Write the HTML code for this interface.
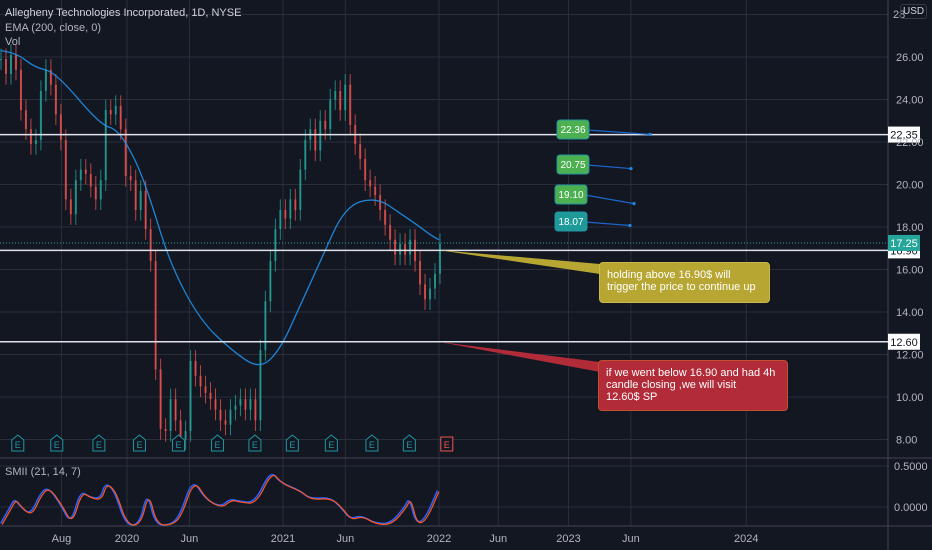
<!DOCTYPE html>
<html><head><meta charset="utf-8"><style>
body{margin:0;background:#131722;width:932px;height:550px;overflow:hidden;font-family:"Liberation Sans",sans-serif}
svg{display:block}
</style></head><body>
<svg id="c" width="932" height="550">
<rect width="932" height="550" fill="#131722"/>
<g id="grid"></g>
<g id="main"></g>
<g id="ann"></g>
<g id="axis"></g>
</svg>
<script>
const closes=[25.9,25.2,26.1,25.4,23.5,22.6,21.9,22.1,24.4,25.4,24.7,23.3,22.1,19.3,18.6,20.2,20.7,20.5,19.9,19.3,20.2,23.5,23.3,23.7,22.6,20.4,20.2,18.8,19.7,17.9,16.4,11.3,8.5,8.4,9.9,8.9,8.0,8.4,11.7,11.0,10.5,10.2,9.9,9.4,8.9,8.7,9.4,9.6,9.9,9.4,9.9,8.9,12.2,14.5,16.4,17.9,18.8,18.4,19.3,18.8,20.7,22.1,22.6,21.6,23.0,22.6,24.0,24.4,23.5,24.7,22.8,21.9,21.2,20.2,19.9,19.5,18.8,18.1,17.4,16.7,17.2,16.7,17.4,16.4,15.3,14.6,15.1,15.8,17.2];
const emaT=[2019.19,2019.29,2019.41,2019.54,2019.83,2019.94,2020.06,2020.15,2020.28,2020.47,2020.67,2020.85,2020.98,2021.11,2021.24,2021.40,2021.60,2021.76,2021.86,2021.95,2022.0];
const emaV=[26.3,26.2,25.5,25.3,22.8,22.6,21.1,19.3,16.2,13.6,12.2,11.3,12.2,14.3,16.4,19.0,19.4,18.6,18.1,17.6,17.4];
const smiT=[2019.19,2019.25,2019.28,2019.31,2019.38,2019.44,2019.49,2019.57,2019.64,2019.70,2019.76,2019.83,2019.86,2019.92,2019.99,2020.08,2020.13,2020.18,2020.28,2020.34,2020.42,2020.50,2020.60,2020.66,2020.72,2020.82,2020.92,2020.98,2021.11,2021.17,2021.30,2021.37,2021.43,2021.50,2021.59,2021.69,2021.78,2021.81,2021.85,2021.91,2021.99];
const smiV=[-0.2,0.0,0.1,0.02,-0.1,0.15,0.25,0.05,-0.25,0.2,0.12,0.1,0.3,0.2,-0.25,-0.25,0.2,-0.25,-0.25,-0.1,0.35,0.1,0.0,0.1,0.07,0.05,0.45,0.3,0.2,0.1,0.12,0.0,-0.15,-0.1,-0.2,-0.2,0.0,0.12,-0.2,-0.15,0.2];
const priceTicks=[26,24,22,20,18,16,14,12,10,8];
const smiTicks=[0.5,0];
const timeTicks=[["Aug",2019.58],["2020",2020.0],["Jun",2020.4],["2021",2021.0],["Jun",2021.4],["2022",2022.0],["Jun",2022.38],["2023",2022.83],["Jun",2023.23],["2024",2023.97]];
const levels=[22.35,16.90,12.60];
const targets=[22.36,20.75,19.10,18.07];
const earnT=[2019.30,2019.55,2019.82,2020.08,2020.33,2020.58,2020.82,2021.06,2021.31,2021.57,2021.81,2022.05];
const NS="http://www.w3.org/2000/svg";
const X=t=>(t-2019.186)*156, Y=p=>57+(26-p)*21.25, SY=v=>507-v*82;
function mk(p,tag,a){const e=document.createElementNS(NS,tag);for(const k in a)e.setAttribute(k,a[k]);p.appendChild(e);return e;}
function smooth(pts){let d='M'+pts[0][0]+' '+pts[0][1];for(let i=1;i<pts.length-1;i++){const mx=(pts[i][0]+pts[i+1][0])/2,my=(pts[i][1]+pts[i+1][1])/2;d+=' Q'+pts[i][0]+' '+pts[i][1]+' '+mx+' '+my;}const l=pts[pts.length-1];return d+' L'+l[0]+' '+l[1];}
const G=document.getElementById('grid'),M=document.getElementById('main'),A=document.getElementById('ann'),AX=document.getElementById('axis');
priceTicks.forEach(p=>{const l=mk(G,'line',{x1:0,x2:888,y1:Y(p),y2:Y(p),stroke:'#2a2e39'});


const t=mk(AX,'text',{x:896,y:Y(p)+4,fill:'#b2b5be','font-size':11});t.textContent=p.toFixed(2);

});
mk(AX,'text',{x:893,y:18,fill:'#b2b5be','font-size':11}).textContent='28';
mk(G,'line',{x1:0,x2:888,y1:Y(28),y2:Y(28),stroke:'#2a2e39'});
timeTicks.forEach(([s,t])=>{const l=mk(G,'line',{x1:X(t),x2:X(t),y1:0,y2:526,stroke:'#2a2e39'});


const tx=mk(AX,'text',{x:X(t),y:542,fill:'#b2b5be','font-size':11,'text-anchor':'middle'});tx.textContent=s;

});
smiTicks.forEach(v=>{mk(G,'line',{x1:0,x2:888,y1:SY(v),y2:SY(v),stroke:'#2a2e39'});
const t=mk(AX,'text',{x:894,y:SY(v)+4,fill:'#b2b5be','font-size':11});t.textContent=v.toFixed(4);

});
mk(G,'line',{x1:0,x2:932,y1:458,y2:458,stroke:'#434651'});
mk(G,'line',{x1:0,x2:932,y1:526,y2:526,stroke:'#434651'});
mk(G,'line',{x1:888,x2:888,y1:0,y2:550,stroke:'#434651'});
const step=(X(2022.0)-X(2019.186))/(closes.length-1);
closes.forEach((c,i)=>{const o=i?closes[i-1]:c;const x=i*step;const up=c>=o;const col=up?'#26a69a':'#ef5350';
const hi=Math.max(o,c)+0.5,lo=Math.min(o,c)-0.5;
const w=mk(M,'line',{x1:x+1,x2:x+1,y1:Y(hi),y2:Y(lo),stroke:col,'stroke-width':1,opacity:0.75});


const b=mk(M,'rect',{x:x,y:Y(Math.max(o,c)),width:2,height:Math.max(1,Math.abs(Y(o)-Y(c))),fill:col,opacity:0.75});

});
const ema=mk(M,'path',{d:smooth(emaT.map((t,i)=>[X(t),Y(emaV[i])])),fill:'none',stroke:'#2196f3','stroke-width':1.3,opacity:0.85});


const s1=mk(M,'path',{d:smooth(smiT.map((t,i)=>[X(t),Math.min(525,SY(smiV[i]))])),fill:'none',stroke:'#2962ff','stroke-width':1.5});


const s2=mk(M,'path',{d:smooth(smiT.map((t,i)=>[X(t)+1.5,Math.min(525,SY(smiV[i])+1)])),fill:'none',stroke:'#ff5722','stroke-width':1.2});


earnT.forEach((t,i)=>{const x=X(t),red=i==earnT.length-1;const c=red?'#ef5350':'#2196a3';
const g=mk(M,'g',{});


mk(g,'path',{d:red?`M${x-6} 437h12v14h-12z`:`M${x-6} 440l6-5 6 5v11h-12z`,fill:'#131722',stroke:c});
mk(g,'text',{x:x,y:448,fill:c,'font-size':9,'text-anchor':'middle'}).textContent='E';});
mk(A,'line',{x1:0,x2:888,y1:Y(17.25),y2:Y(17.25),stroke:'#26a69a','stroke-dasharray':'1 2'});
levels.forEach(p=>{const l=mk(A,'line',{x1:0,x2:888,y1:Y(p),y2:Y(p),stroke:'#e0e3eb','stroke-width':1.5});


mk(A,'rect',{x:888,y:Y(p)-8,width:32,height:16,fill:'#fff'});
const t=mk(A,'text',{x:904,y:Y(p)+4,'font-size':11,'text-anchor':'middle',fill:'#131722'});t.textContent=p.toFixed(2);

});
mk(A,'rect',{x:888,y:Y(17.25)-8,width:32,height:16,fill:'#26a69a'});
mk(A,'text',{x:904,y:Y(17.25)+4,'font-size':11,'text-anchor':'middle',fill:'#fff'}).textContent='17.25';
const tbox=[[557,120,650],[557,155,631],[555,185,634],[555,212,630]];
targets.forEach((p,i)=>{const [bx,by,ex]=tbox[i];
mk(A,'line',{x1:bx+30,y1:by+10,x2:ex,y2:Y(p),stroke:'#1e66c8','stroke-width':1.2});
mk(A,'circle',{cx:ex,cy:Y(p),r:1.6,fill:'#1e88e5'});
const r=mk(A,'rect',{x:bx,y:by,width:32,height:19,rx:3,fill:i==3?'#1e9a99':'#4caf50',stroke:'#2196a3'});


mk(A,'text',{x:bx+16,y:by+13,'font-size':10,'text-anchor':'middle',fill:'#fff'}).textContent=p.toFixed(2);});
mk(A,'polygon',{points:`438,250 600,264 600,274`,fill:'#b8a633'});
mk(A,'polygon',{points:`440,342 600,362 600,372`,fill:'#b22b38'});
</script>
<div style="position:absolute;left:5px;top:7px;color:#d1d4dc;font-size:11px">Allegheny Technologies Incorporated, 1D, NYSE</div>
<div style="position:absolute;left:5px;top:22px;color:#b2b5be;font-size:11px">EMA (200, close, 0)</div>
<div style="position:absolute;left:5px;top:36px;color:#b2b5be;font-size:11px">Vol</div>
<div style="position:absolute;left:5px;top:466px;color:#b2b5be;font-size:11px">SMII (21, 14, 7)</div>
<div style="position:absolute;left:900px;top:4px;border:1px solid #363a45;border-radius:3px;color:#d1d4dc;font-size:10px;padding:1px 2px">USD</div>
<div style="position:absolute;left:599px;top:262px;width:155px;height:27px;padding:6px 7px;background:#b8a633;border:1px solid #c9b84a;border-radius:4px;color:#fff;font-size:11px;line-height:12px;white-space:nowrap">holding above 16.90$ will<br>trigger the price to continue up</div>
<div style="position:absolute;left:598px;top:360px;width:174px;height:37px;padding:6px 7px;background:#b22b38;border:1px solid #c05030;border-radius:4px;color:#fff;font-size:11px;line-height:12px;white-space:nowrap">if we went below 16.90 and had 4h<br>candle closing ,we will visit<br>12.60$ SP</div>
</body></html>
